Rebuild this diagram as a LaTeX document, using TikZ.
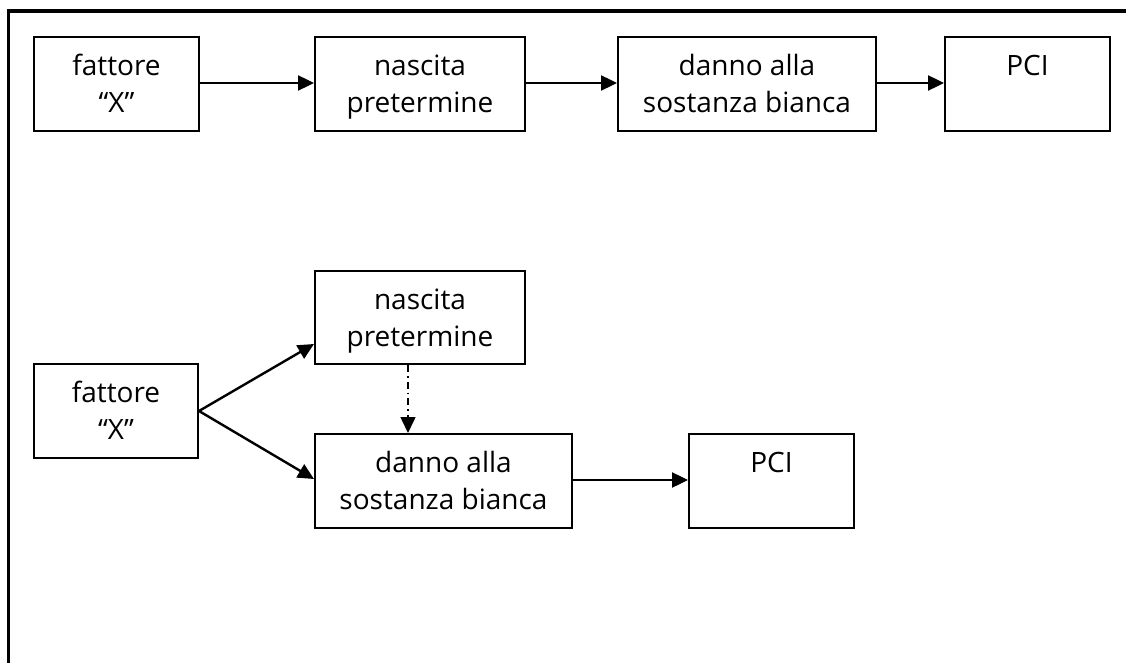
\documentclass[tikz,border=0pt]{standalone}
\usepackage{fontspec}
\setmainfont{Open Sans}
\usetikzlibrary{arrows.meta,calc}
\newcommand\bxt[3]{\parbox[c][#2pt][t]{#1pt}{\centering\vspace*{13pt}\strut #3\par}}
\begin{document}
\begin{tikzpicture}[x=1pt,y=-1pt,
  bx/.style={draw, line width=2pt, inner sep=0pt, anchor=north west,
    font=\fontsize{28}{37}\selectfont},
  arr/.style={line width=2.4pt, -{Triangle[length=16pt,width=15pt]}},
  dotarr/.style={line width=1.6pt, dash pattern=on 7pt off 4pt on 1.5pt off 4pt,
    -{Triangle[length=16pt,width=15pt]}}]
\useasboundingbox (0,0) rectangle (1126,663);
\draw[line width=3.5pt] (8.5,663) -- (8.5,11) -- (1126,11);
% top row
\node[bx] (t1) at (33,36)  {\bxt{165}{94}{fattore\\“X”}};
\node[bx] (t2) at (314,36) {\bxt{210}{94}{nascita\\pretermine}};
\node[bx] (t3) at (617,36) {\bxt{258}{94}{danno alla\\sostanza bianca}};
\node[bx] (t4) at (944,36) {\bxt{165}{94}{PCI}};
\draw[arr] ($(t1.north east)+(0,47)$) -- ($(t2.north west)+(0,47)$);
\draw[arr] ($(t2.north east)+(0,47)$) -- ($(t3.north west)+(0,47)$);
\draw[arr] ($(t3.north east)+(0,47)$) -- ($(t4.north west)+(0,47)$);
% bottom
\node[bx] (b1) at (33,363)  {\bxt{164}{94}{fattore\\“X”}};
\node[bx] (b2) at (314,270) {\bxt{210}{93}{nascita\\pretermine}};
\node[bx] (b3) at (314,433) {\bxt{257}{94}{danno alla\\sostanza bianca}};
\node[bx] (b4) at (688,433) {\bxt{165}{94}{PCI}};
\draw[arr] (b1.east) -- ($(b2.south west)+(0,-21)$);
\draw[arr] (b1.east) -- ($(b3.north west)+(0,46)$);
\draw[dotarr] ($(b2.south west)+(94,0)$) -- ($(b3.north west)+(94,0)$);
\draw[arr] ($(b3.north east)+(0,47)$) -- ($(b4.north west)+(0,47)$);
\end{tikzpicture}
\end{document}
